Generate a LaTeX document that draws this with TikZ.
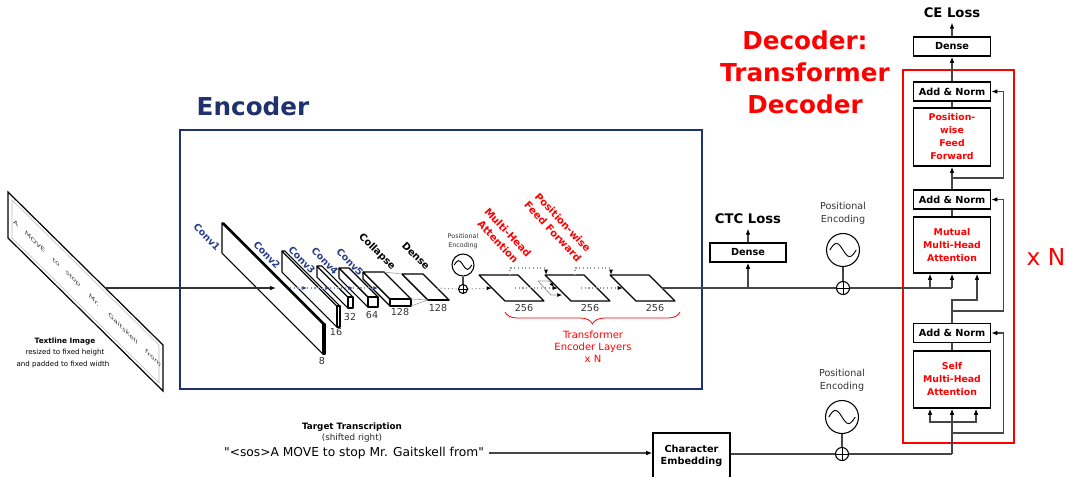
\documentclass[tikz,border=0pt]{standalone}
\usepackage{fontspec}
\setmainfont{DejaVu Sans}
\usetikzlibrary{arrows.meta,calc,positioning,decorations.pathreplacing}
\definecolor{encblue}{RGB}{30,50,110}
\definecolor{convblue}{RGB}{40,60,135}
\definecolor{lnk}{RGB}{70,70,70}
\tikzset{
  conn/.style={draw=lnk, line width=0.8pt},
  arr/.style={conn, -{Latex[length=4.5pt,width=3.5pt,color=black]}},
  dotline/.style={draw=gray!80, line width=0.8pt, dotted},
  dotarr/.style={dotline, -{Latex[length=4pt,width=3pt,color=black]}},
  bluearr/.style={draw=convblue!55, line width=0.8pt, dotted, -{Latex[length=3.5pt,width=3pt,color=convblue]}},
  blk/.style={draw, line width=1.2pt, fill=white, align=center, inner sep=0pt,
    minimum width=57.75pt, font=\bfseries\fontsize{7.3}{9}\selectfont},
  redblk/.style={blk, text=red, font=\bfseries\fontsize{7}{9.75}\selectfont},
  lossl/.style={font=\bfseries\fontsize{9.9}{12}\selectfont},
  posenc/.style={circle, draw, line width=0.8pt, minimum size=#1, inner sep=0pt, fill=white,
    path picture={\draw[line width=0.7pt] ([xshift=-0.4*#1]path picture bounding box.center)
      sin ++(0.2*#1,0.2*#1) cos ++(0.2*#1,-0.2*#1) sin ++(0.2*#1,-0.2*#1) cos ++(0.2*#1,0.2*#1);}},
  oplus/.style={circle, draw, line width=0.8pt, minimum size=#1, inner sep=0pt, fill=white,
    path picture={\draw[line width=0.7pt] (path picture bounding box.north) -- (path picture bounding box.south)
      (path picture bounding box.west) -- (path picture bounding box.east);}},
  pelab/.style={align=center, text=black!80, font=\fontsize{7.2}{9.4}\selectfont},
  convlab/.style={rotate=-46, text=convblue, font=\bfseries\fontsize{7.2}{8}\selectfont},
  blklab/.style={rotate=-45, font=\bfseries\fontsize{7.4}{8}\selectfont},
  redlab/.style={rotate=-47, text=red, align=center, font=\bfseries\fontsize{7.6}{10.2}\selectfont},
  dimlab/.style={text=black!80, font=\fontsize{7.2}{8}\selectfont},
  plate/.style={fill=white, line width=0.8pt, line join=round},
}

\begin{document}
\begin{tikzpicture}[x=0.75pt, y=-0.75pt]
  \useasboundingbox (0,0) rectangle (1066,476);

  % Textline image
  \begin{scope}[shift={(8,192)}, yslant=-0.987]
    \draw[line width=0.9pt, fill=white] (0,0) rectangle (155,46);
    \draw[gray!55, line width=0.4pt] (4,4) rectangle (151,42);
    \foreach \wx/\word [count=\i] in {8/A, 27/MOVE, 48/to, 65/stop, 86/Mr., 115/Gaitskell, 145/from}
      \node[transform shape, text=black!75, font=\itshape\fontsize{5}{6}\selectfont] (word\i) at (\wx,23) {\word};
  \end{scope}
  \node[font=\bfseries\fontsize{5.5}{6.6}\selectfont] (imgtitle) at (65,341) {Textline Image};
  \node[font=\fontsize{5.3}{6.6}\selectfont] (imgsub1) at (65,353) {resized to fixed height};
  \node[font=\fontsize{5.3}{6.6}\selectfont] (imgsub2) at (63,365) {and padded to fixed width};

  % Encoder
  \draw[encblue, line width=1.1pt] (180,130) rectangle (702,389);
  \node[text=encblue, font=\bfseries\fontsize{18.5}{22}\selectfont] (enclab) at (253,106) {Encoder};

  % conv stack
  \foreach \x/\y/\l/\h/\w in {222/223/101/30/2, 282/251/55/21/3, 317/266/31/11/5,
                              339/268/29/10/10, 363/272/27/7/21, 402/274/26/0/21} {
    \filldraw[plate] (\x,\y) -- ++(\l,\l) -- ++(0,\h) -- ++(-\l,-\l) -- cycle;
    \filldraw[plate] (\x,\y) -- ++(\w,0) -- ++(\l,\l) -- ++(-\w,0) -- cycle;
    \filldraw[plate] ({\x+\l},{\y+\l}) rectangle ++(\w,\h);
  }
  \draw[gray!70, line width=0.5pt] (384,272) -- (402,274) (411,299) -- (428,300) (411,306) -- (428,300);

  \foreach \lx/\ly/\txt [count=\i] in {207/237/Conv1, 267/255/Conv2, 302/260/Conv3, 325/261/Conv4, 350/262/Conv5}
    \node[convlab] (convlab\i) at (\lx,\ly) {\txt};
  \node[blklab] (collab) at (377,252) {Collapse};
  \node[blklab] (denselab) at (416,256) {Dense};
  \foreach \dx/\dy/\txt [count=\i] in {322/361/8, 336/332/16, 350/317/32, 372/315/64, 400/312/128, 438/308/128}
    \node[dimlab] (dim\i) at (\dx,\dy) {\txt};

  \coordinate (imgout) at (105,288);
  \coordinate (conv1in) at (276,288);
  \draw[arr, draw=black!80, line width=0.9pt] (imgout) -- (conv1in);
  \foreach \a/\b in {290/307, 307/330, 330/353, 353/378}
    \draw[bluearr] (\a,288) -- (\b,288);

  % positional encoding (encoder)
  \node[posenc=16.5pt] (pe1) at (463,265) {};
  \node[oplus=6.75pt] (add1) at (463,289) {};
  \draw[conn] (pe1) -- (add1);
  \node[text=black!80, align=center, font=\fontsize{4.8}{6.75}\selectfont] (pe1lab) at (463,241.5) {Positional\\Encoding};
  \coordinate (densemid) at (437,288);
  \draw[dotline] (densemid) -- (add1.west);

  % transformer encoder layers
  \foreach \x [count=\n] in {479,545,610} {
    \filldraw[plate] (\x,275) -- ++(39,0) -- ++(26,26) -- ++(-39,0) -- cycle;
    \node[dimlab] (enc\n) at ({\x+45},308) {256};
    \coordinate (lin\n) at ({\x+13},288);
    \coordinate (lmid\n) at ({\x+36},288);
    \coordinate (lout\n) at ({\x+52},288);
  }
  \draw[dotarr] (add1.east) -- (lin1);
  \draw[dotarr] (lmid1) -- (lin2);
  \draw[dotarr] (lmid2) -- (lin3);
  \draw[dotarr] (510,275) |- (546,268) -- (546,275);
  \draw[dotarr] (575,275) |- (611,268) -- (611,275);
  \draw[gray!80, line width=0.6pt, -{Latex[length=3.5pt,width=3pt,color=black]}] (538,281) -- (549,281) -- (554,287);
  \draw[gray!80, line width=0.6pt, -{Latex[length=3.5pt,width=3pt,color=black]}] (538,281) -- (551,295) -- (562,295);

  \node[redlab] (mhalab) at (503,237) {Multi-Head\\Attention};
  \node[redlab] (fflab) at (558,227) {Position-wise\\Feed Forward};
  \draw[red, line width=0.6pt, decorate, decoration={brace, mirror, amplitude=9pt}] (505,312) -- (680,312);
  \node[text=red, align=center, font=\fontsize{7.5}{9}\selectfont] (tellab) at (593,347) {Transformer\\Encoder Layers\\x N};

  % CTC branch
  \node[blk, minimum width=57pt, minimum height=14.25pt] (ctcDense) at (748,252.5) {Dense};
  \node[lossl] (ctcloss) at (748,219) {CTC Loss};
  \coordinate (ctcin) at (748,288);
  \draw[arr] (ctcin) -- (ctcDense.south);
  \draw[arr] (ctcDense.north) -- (ctcloss.south);

  % Decoder
  \draw[red, line width=1.1pt] (903,70) rectangle (1014,443);
  \node[text=red, align=center, font=\bfseries\fontsize{18.5}{24}\selectfont] (declab) at (805,72) {Decoder:\\Transformer\\Decoder};
  \node[text=red, font=\fontsize{17.5}{20}\selectfont] (xn) at (1046,257) {x N};

  \node[lossl] (celoss) at (952,13) {CE Loss};
  \node[blk, minimum height=14.25pt] (ceDense) at (952,46.5) {Dense};
  \node[blk, minimum height=14.25pt] (an1) at (952,91.5) {Add \& Norm};
  \node[redblk, minimum height=43.5pt] (ff) at (952,137) {Position-\\wise\\Feed\\Forward};
  \node[blk, minimum height=14.25pt] (an2) at (952,199.5) {Add \& Norm};
  \node[redblk, minimum height=42pt] (mutual) at (952,245) {Mutual\\Multi-Head\\Attention};
  \node[blk, minimum height=14.25pt] (an3) at (952,333) {Add \& Norm};
  \node[redblk, minimum height=42.75pt] (selfatt) at (952,379.5) {Self\\Multi-Head\\Attention};

  \draw[arr] (ceDense.north) -- (celoss.south);
  \draw[arr] (an1.north) -- (ceDense.south);
  \draw[conn] (ff.north) -- (an1.south);
  \draw[arr] (an2.north) -- (ff.south);
  \draw[conn] (mutual.north) -- (an2.south);
  \draw[conn] (selfatt.north) -- (an3.south);

  % residual paths
  \coordinate (res1) at (952,178);
  \coordinate (res2) at (952,311);
  \coordinate (res3) at (952,433);
  \draw[arr] (res1) -| ([xshift=9pt]an1.east) -- (an1.east);
  \draw[arr] (res2) -| ([xshift=9pt]an2.east) -- (an2.east);
  \draw[arr] (res3) -| ([xshift=9pt]an3.east) -- (an3.east);

  % encoder output into decoder
  \node[posenc=24.75pt] (pe2) at (843,250) {};
  \node[pelab, above=3pt of pe2] (pe2lab) {Positional\\Encoding};
  \coordinate (encout) at (952,288);
  \coordinate (kin) at (930,288);
  \draw[conn, line width=0.9pt] (lout3) -- (encout);
  \draw[arr] (encout) -- (mutual.south);
  \draw[arr] (kin) -- (kin |- mutual.south);
  \node[oplus=9.75pt] (add2) at (843,288) {};
  \draw[conn] (pe2) -- (add2);
  \coordinate (qout) at (952,300);
  \draw[arr] (an3.north) -- (qout) -| ([xshift=18.75pt]mutual.south);

  % target transcription
  \node[font=\bfseries\fontsize{6.6}{8}\selectfont] (tgtlab) at (352,427) {Target Transcription};
  \node[text=black!85, font=\fontsize{6.6}{8}\selectfont] (tgtsub) at (352,438) {(shifted right)};
  \node[font=\fontsize{9.2}{11}\selectfont] (transcr) at (354,453) {\textquotedbl<sos>A MOVE to stop Mr. Gaitskell from\textquotedbl};
  \node[blk, minimum height=34.5pt] (charemb) at (691.5,456) {Character\\Embedding};
  \draw[arr] (transcr.east) -- (charemb.west |- transcr.east);

  \node[posenc=24.75pt] (pe3) at (842,417) {};
  \node[pelab, above=3pt of pe3] (pe3lab) {Positional\\Encoding};
  \coordinate (decin) at (952,454);
  \draw[conn] (charemb.east |- decin) -- (decin);
  \draw[arr] (decin) -- (selfatt.south);
  \node[oplus=9.75pt] (add3) at (842,454) {};
  \draw[conn] (pe3) -- (add3);
  \coordinate (qkv) at (952,422);
  \draw[arr] (qkv) -| ([xshift=-16.5pt]selfatt.south);
  \draw[arr] (qkv) -| ([xshift=18pt]selfatt.south);
\end{tikzpicture}
\end{document}
